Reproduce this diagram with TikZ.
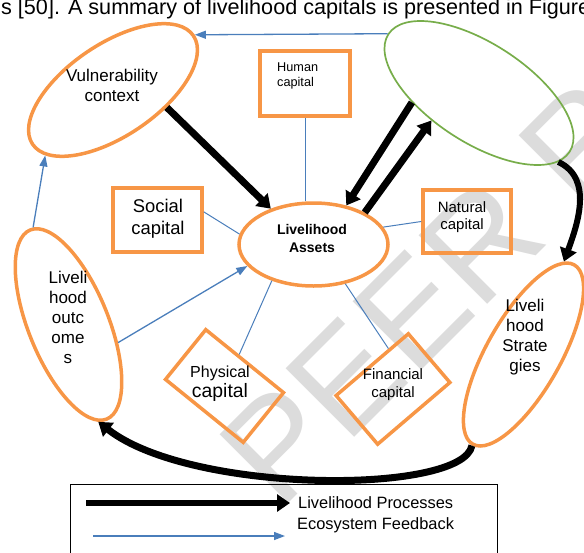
\documentclass[tikz,border=0pt]{standalone}
\usepackage{fontspec}
\setmainfont{Liberation Sans}
\usepackage{tikz}
\usetikzlibrary{arrows.meta}
\usetikzlibrary{shapes.geometric}
\definecolor{capor}{HTML}{F79646}
\definecolor{ecogreen}{HTML}{77AD4A}
\definecolor{feedblue}{HTML}{4A7EBB}
\definecolor{wmgray}{HTML}{DCDCDC}
\newcommand{\setfs}[2]{\fontsize{#1}{#2}\selectfont}

\begin{document}
\begin{tikzpicture}[x=1pt,y=1pt,
  oval/.style={ellipse,draw=capor,line width=3.5pt,inner sep=0pt},
  capbox/.style={rectangle,draw=capor,line width=3.5pt,inner sep=0pt},
  lbl/.style={align=center,inner sep=0pt},
  proc/.style={line width=7pt,-{Triangle[length=13pt,width=17pt]}},
  feed/.style={draw=feedblue,line width=1.3pt,-{Triangle[length=11pt,width=8pt]}},
  tie/.style={draw=feedblue,line width=1pt}]

\useasboundingbox (0,0) rectangle (584,-552);
\clip (0,0) rectangle (584,-552);

\node[rotate=45,text=wmgray,font=\setfs{141}{141},anchor=base west,inner sep=0pt] (wm) at (280,-512) {PEER REVIEW};

\node[anchor=base west,inner sep=0pt,font=\setfs{21.6}{25}] (hdr) at (1,-14) {s [50]. A summary of livelihood capitals is presented in Figure};

\node[oval,minimum width=194pt,minimum height=92pt,rotate=34] (vc) at (113,-90) {};
\node[ellipse,draw=ecogreen,line width=1.7pt,inner sep=0pt,minimum width=216pt,minimum height=99pt,rotate=-33] (ge) at (479,-93) {};
\node[oval,minimum width=80pt,minimum height=204pt,rotate=22] (lo) at (68.5,-324.5) {};
\node[oval,minimum width=74pt,minimum height=206pt,rotate=-29.5] (ls) at (523.5,-354.5) {};
\node[oval,minimum width=149pt,minimum height=83pt] (la) at (313.5,-244.5) {};
\node[capbox,minimum width=90pt,minimum height=65pt] (hc) at (305,-83.5) {};
\node[capbox,minimum width=89pt,minimum height=64pt] (sc) at (157.5,-220) {};
\node[capbox,minimum width=88pt,minimum height=63pt] (nc) at (467,-221.5) {};
\node[capbox,minimum width=100pt,minimum height=64pt,rotate=-39] (pc) at (224.5,-386) {};
\node[capbox,minimum width=95pt,minimum height=64pt,rotate=40.5] (fc) at (393,-389) {};

\node[lbl,font=\setfs{17}{20}] (vct) at (112,-85) {Vulnerability\\context};
\node[lbl,font=\setfs{17}{20}] (lot) at (68,-317) {Liveli\\hood\\outc\\ome\\s};
\node[lbl,font=\setfs{17}{20}] (lst) at (525,-337) {Liveli\\hood\\Strate\\gies};
\node[lbl,font=\bfseries\setfs{14}{18}] (lat) at (312,-238) {Livelihood\\Assets};
\node[lbl,align=left,anchor=north west,font=\setfs{12.7}{15}] (hct) at (277,-63) {Human\\capital};
\node[lbl,font=\setfs{18.4}{22}] (sct) at (158,-219) {Social\\capital};
\node[lbl,font=\setfs{15}{17}] (nct) at (462,-217) {Natural\\capital};
\node[lbl,font=\setfs{16}{20}] (pct) at (220,-384) {Physical\\{\setfs{19.4}{20}capital}};
\node[lbl,font=\setfs{15}{18}] (fct) at (393,-385) {Financial\\capital};

\draw[line width=0.8pt] (70,-484) rectangle (497,-570);
\coordinate (lp0) at (86,-503);
\coordinate (lp1) at (290,-503);
\coordinate (lf0) at (93,-536);
\coordinate (lf1) at (285,-536);
\node[anchor=west,inner sep=0pt,font=\setfs{16.4}{20}] (lpt) at (298,-503) {Livelihood Processes};
\node[anchor=west,inner sep=0pt,font=\setfs{16.4}{20}] (lft) at (297,-525) {Ecosystem Feedback};

  \path

(vc.-52) edge [proc] (la.140)
(ge.221) edge [proc] (la.50)
(la.32) edge [proc] (ge.243)
(ge.-8) edge [proc,line width=6pt,out=-25,in=70] (ls.96)
(ls.270) edge [proc,line width=7pt,out=-101,in=-38,out distance=50pt,in distance=118pt] (lo.265)
(lp0) edge [proc,line width=6pt] (lp1)

(ge.west) edge [feed] (vc.east)
(lo.88) edge [feed] (vc.190)
(lo.-42) edge [feed] (la.198)
(hc.south) edge [tie] (la.north -| hc.south)
(sc.10) edge [tie] (la.172)
(nc.west) edge [tie] (la.14)
(pc.104) edge [tie] (la.221)
(fc.56) edge [tie] (la.-51)
(lf0) edge [feed] (lf1)
;
\end{tikzpicture}
\end{document}
